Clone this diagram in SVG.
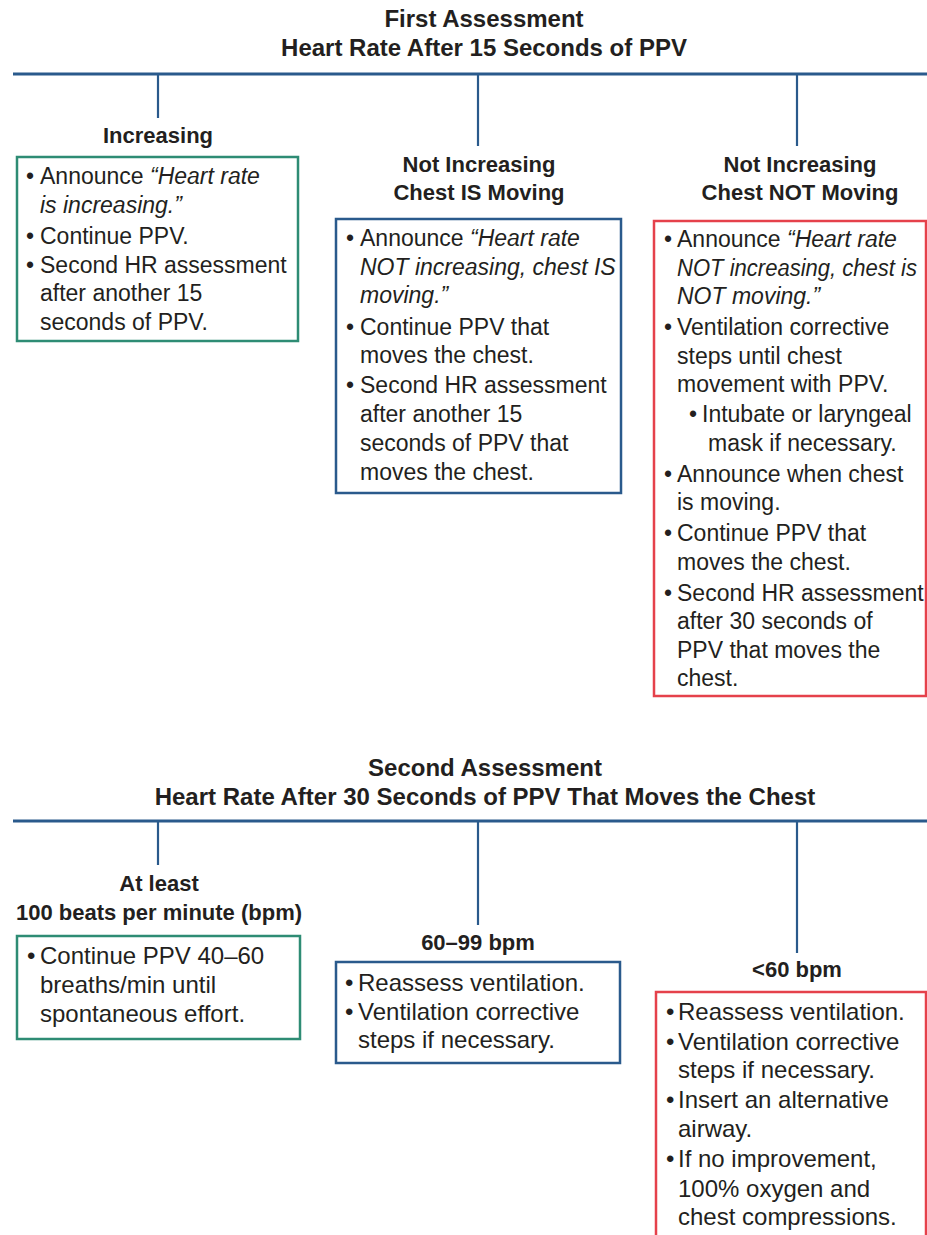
<svg xmlns="http://www.w3.org/2000/svg" width="927" height="1235" viewBox="0 0 927 1235">
<style>
text{font-family:"Liberation Sans",Arial,sans-serif;fill:#231f20}
.title{font-size:24px;font-weight:bold;text-anchor:middle}
.head{font-size:22px;font-weight:bold;text-anchor:middle}
.t{font-size:23px}
.b{font-size:24px}
.i{font-style:italic}
.conn{stroke:#2a5a8c;stroke-width:2.2;fill:none}
.hline{stroke:#2a5a8c;stroke-width:2.8;fill:none}
.green{fill:#fff;stroke:#2e8c74;stroke-width:2.5}
.blue{fill:#fff;stroke:#2a5a8c;stroke-width:2.5}
.red{fill:#fff;stroke:#e5414b;stroke-width:2.5}
</style>
<rect width="927" height="1235" fill="#fff"/>

<g id="title1">
<text class="title" x="484" y="27">First Assessment</text>
<text class="title" x="484" y="56">Heart Rate After 15 Seconds of PPV</text>
</g>

<g id="connectors">
<line class="hline" x1="13" y1="74" x2="927" y2="74"/>
<line class="conn" x1="158" y1="74" x2="158" y2="118"/>
<line class="conn" x1="478" y1="74" x2="478" y2="146"/>
<line class="conn" x1="797" y1="74" x2="797" y2="146"/>
<line class="hline" x1="13" y1="821" x2="927" y2="821"/>
<line class="conn" x1="158" y1="821" x2="158" y2="865"/>
<line class="conn" x1="478" y1="821" x2="478" y2="925"/>
<line class="conn" x1="797" y1="821" x2="797" y2="953"/>
</g>

<g id="node-increasing">
<text class="head" x="158" y="143">Increasing</text>
<rect class="green" x="17" y="157" width="281" height="184"/>
<text class="t" x="26" y="184">•</text><text class="t" x="40" y="184">Announce <tspan class="i">“Heart rate</tspan></text>
<text class="t i" x="40" y="213">is increasing.”</text>
<text class="t" x="26" y="244">•</text><text class="t" x="40" y="244">Continue PPV.</text>
<text class="t" x="26" y="273">•</text><text class="t" x="40" y="273">Second HR assessment</text>
<text class="t" x="40" y="301">after another 15</text>
<text class="t" x="40" y="330">seconds of PPV.</text>
</g>

<g id="node-chest-moving">
<text class="head" x="479" y="172">Not Increasing</text>
<text class="head" x="479" y="200">Chest IS Moving</text>
<rect class="blue" x="336" y="219" width="285" height="274"/>
<text class="t" x="346" y="246">•</text><text class="t" x="360" y="246">Announce <tspan class="i">“Heart rate</tspan></text>
<text class="t i" x="360" y="275">NOT increasing, chest IS</text>
<text class="t i" x="360" y="303">moving.”</text>
<text class="t" x="346" y="335">•</text><text class="t" x="360" y="335">Continue PPV that</text>
<text class="t" x="360" y="363">moves the chest.</text>
<text class="t" x="346" y="393">•</text><text class="t" x="360" y="393">Second HR assessment</text>
<text class="t" x="360" y="422">after another 15</text>
<text class="t" x="360" y="451">seconds of PPV that</text>
<text class="t" x="360" y="480">moves the chest.</text>
</g>

<g id="node-chest-not-moving">
<text class="head" x="800" y="172">Not Increasing</text>
<text class="head" x="800" y="200">Chest NOT Moving</text>
<rect class="red" x="654" y="221" width="272" height="475"/>
<text class="t" x="664" y="247">•</text><text class="t" x="677" y="247">Announce <tspan class="i">“Heart rate</tspan></text>
<text class="t i" x="677" y="275.5" textLength="240" lengthAdjust="spacingAndGlyphs">NOT increasing, chest is</text>
<text class="t i" x="677" y="304">NOT moving.”</text>
<text class="t" x="664" y="335">•</text><text class="t" x="677" y="335">Ventilation corrective</text>
<text class="t" x="677" y="363.5">steps until chest</text>
<text class="t" x="677" y="392">movement with PPV.</text>
<text class="t" x="689" y="422">•</text><text class="t" x="702" y="422">Intubate or laryngeal</text>
<text class="t" x="708" y="450.5">mask if necessary.</text>
<text class="t" x="664" y="481.5">•</text><text class="t" x="677" y="481.5">Announce when chest</text>
<text class="t" x="677" y="510">is moving.</text>
<text class="t" x="664" y="541">•</text><text class="t" x="677" y="541">Continue PPV that</text>
<text class="t" x="677" y="569.5">moves the chest.</text>
<text class="t" x="664" y="600.5">•</text><text class="t" x="677" y="600.5">Second HR assessment</text>
<text class="t" x="677" y="629">after 30 seconds of</text>
<text class="t" x="677" y="657.5">PPV that moves the</text>
<text class="t" x="677" y="686">chest.</text>
</g>

<g id="title2">
<text class="title" x="485" y="776">Second Assessment</text>
<text class="title" x="485" y="805">Heart Rate After 30 Seconds of PPV That Moves the Chest</text>
</g>

<g id="node-100bpm">
<text class="head" x="159" y="891">At least</text>
<text class="head" x="159" y="920">100 beats per minute (bpm)</text>
<rect class="green" x="17" y="936" width="283" height="103"/>
<text class="b" x="27" y="964">•</text><text class="b" x="40" y="964">Continue PPV 40–60</text>
<text class="b" x="40" y="993">breaths/min until</text>
<text class="b" x="40" y="1022">spontaneous effort.</text>
</g>

<g id="node-60-99bpm">
<text class="head" x="478" y="950">60–99 bpm</text>
<rect class="blue" x="336" y="962" width="284" height="101"/>
<text class="b" x="345" y="991">•</text><text class="b" x="358" y="991">Reassess ventilation.</text>
<text class="b" x="345" y="1020">•</text><text class="b" x="358" y="1020">Ventilation corrective</text>
<text class="b" x="358" y="1048">steps if necessary.</text>
</g>

<g id="node-under60bpm">
<text class="head" x="797" y="977">&lt;60 bpm</text>
<rect class="red" x="656" y="992" width="270" height="260"/>
<text class="b" x="666" y="1020">•</text><text class="b" x="678" y="1020">Reassess ventilation.</text>
<text class="b" x="666" y="1050">•</text><text class="b" x="678" y="1050">Ventilation corrective</text>
<text class="b" x="678" y="1078">steps if necessary.</text>
<text class="b" x="666" y="1108">•</text><text class="b" x="678" y="1108">Insert an alternative</text>
<text class="b" x="678" y="1137">airway.</text>
<text class="b" x="666" y="1167">•</text><text class="b" x="678" y="1167">If no improvement,</text>
<text class="b" x="678" y="1197">100% oxygen and</text>
<text class="b" x="678" y="1225">chest compressions.</text>
</g>
</svg>
